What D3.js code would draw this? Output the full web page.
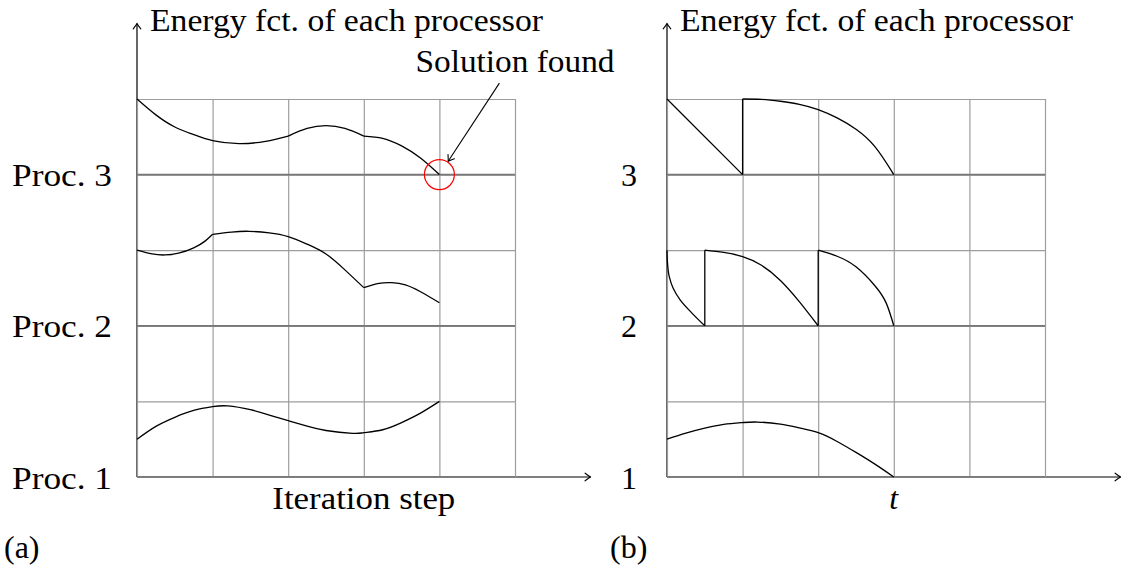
<!DOCTYPE html>
<html>
<head>
<meta charset="utf-8">
<script src="https://cdn.jsdelivr.net/npm/d3@7"></script>
<style>
  body { margin: 0; background: #fff; }
</style>
</head>
<body>
<svg id="chart" width="1125" height="569" font-family="Liberation Serif, serif"></svg>
<script>
// ---- data -------------------------------------------------------------
const gridSteps = [0, 1, 2, 3, 4, 5];
const levelValues = [0, 2, 4];
const procLabelsIter = ["Proc. 1", "Proc. 2", "Proc. 3"];
const procLabelsTime = ["1", "2", "3"];
const yTitle = "Energy fct. of each processor";
const xTitleIter = "Iteration step";
const xTitleTime = "t";
const panelTags = ["(a)", "(b)"];
const solutionText = "Solution found";
const solutionPoint = [4, 4];

// (a) energy per processor over iteration steps; each inner array is one smooth piece
const iterProc1 = [
  [[0, 0.50], [0.25, 0.67], [0.5, 0.79], [0.75, 0.88], [1.0, 0.93], [1.2, 0.94], [1.5, 0.89],
   [1.75, 0.82], [2.0, 0.745], [2.25, 0.672], [2.5, 0.615], [2.85, 0.578], [3.0, 0.586],
   [3.25, 0.625], [3.5, 0.72], [3.75, 0.845], [4.0, 1.0]]
];
const iterProc2 = [
  [[0, 3.0], [0.2, 2.95], [0.37, 2.937], [0.55, 2.96], [0.75, 3.03], [0.9, 3.12], [1.0, 3.21]],
  [[1.0, 3.21], [1.25, 3.24], [1.48, 3.25], [1.75, 3.23], [2.0, 3.18], [2.25, 3.08], [2.5, 2.95],
   [2.75, 2.74], [3.0, 2.505]],
  [[3.0, 2.505], [3.2, 2.56], [3.37, 2.57], [3.55, 2.54], [3.75, 2.45], [4.0, 2.305]]
];
const iterProc3 = [
  [[0, 5.0], [0.25, 4.79], [0.5, 4.63], [0.75, 4.53], [1.0, 4.45], [1.35, 4.41], [1.7, 4.44], [2.0, 4.51]],
  [[2.0, 4.51], [2.25, 4.61], [2.5, 4.647], [2.75, 4.61], [3.0, 4.51]],
  [[3.0, 4.51], [3.25, 4.48], [3.5, 4.38], [3.75, 4.22], [4.0, 4.0]]
];

// (b) energy per processor over time; drops are drawn as straight pieces
const timeProc1 = [
  [[0, 0.50], [0.25, 0.58], [0.5, 0.645], [0.75, 0.695], [1.0, 0.72], [1.2, 0.727], [1.5, 0.70],
   [1.75, 0.65], [2.0, 0.586], [2.25, 0.47], [2.5, 0.325], [2.75, 0.17], [3.0, 0.0]]
];
const timeProc2 = [
  [[0, 3.0], [0.005, 2.85], [0.03, 2.65], [0.08, 2.5], [0.176, 2.34], [0.333, 2.165], [0.5, 2.0]],
  [[0.5, 2.0], [0.5, 3.0]],
  [[0.5, 3.0], [0.75, 2.97], [1.0, 2.914], [1.25, 2.8], [1.5, 2.6], [1.75, 2.32], [2.0, 2.0]],
  [[2.0, 2.0], [2.0, 3.0]],
  [[2.0, 3.0], [2.25, 2.92], [2.5, 2.78], [2.75, 2.53], [2.9, 2.3], [3.0, 2.0]]
];
const timeProc3 = [
  [[0, 5.0], [1.0, 4.0]],
  [[1.0, 4.0], [1.0, 5.0]],
  [[1.0, 5.0], [1.25, 4.995], [1.5, 4.97], [1.75, 4.93], [2.0, 4.86], [2.25, 4.75], [2.5, 4.6],
   [2.75, 4.37], [3.0, 4.0]]
];

// ---- layout -----------------------------------------------------------
const svg = d3.select("#chart");
const FONT = "Liberation Serif, Times New Roman, serif";
const cell = 75.6;
const yBottom = 477;
const fontSize = 32;

const panels = [
  { left: 137, labels: procLabelsIter, labelGap: 25, labelWidth: 100,
    series: [iterProc1, iterProc2, iterProc3], xTitle: xTitleIter, xTitleWidth: 183,
    italic: false, tag: panelTags[0], tagX: 4, solution: true },
  { left: 667, labels: procLabelsTime, labelGap: 30, labelWidth: null,
    series: [timeProc1, timeProc2, timeProc3], xTitle: xTitleTime, xTitleWidth: null,
    italic: true, tag: panelTags[1], tagX: 610, solution: false }
];

function arrowHead(g, tip, from, len = 5.5, half = 3.8) {
  const dx = tip[0] - from[0], dy = tip[1] - from[1];
  const d = Math.hypot(dx, dy), ux = dx / d, uy = dy / d;
  const px = -uy, py = ux;
  const bx = tip[0] - ux * len, by = tip[1] - uy * len;
  g.append("path")
    .attr("d", `M${bx + px * half},${by + py * half} Q${tip[0] - ux * 1.5 + px * 0.8},${tip[1] - uy * 1.5 + py * 0.8} ${tip[0]},${tip[1]}`
      + ` M${bx - px * half},${by - py * half} Q${tip[0] - ux * 1.5 - px * 0.8},${tip[1] - uy * 1.5 - py * 0.8} ${tip[0]},${tip[1]}`)
    .attr("fill", "none").attr("stroke", "#000").attr("stroke-width", 1.1)
    .attr("stroke-linecap", "round");
}

// smooth spline for pieces advancing along x, y-monotone spline for steep drops
function curveFor(seg) {
  const dx = Math.abs(seg[seg.length - 1][0] - seg[0][0]);
  const dy = Math.abs(seg[seg.length - 1][1] - seg[0][1]);
  const xMono = seg.every((d, i) => i === 0 || d[0] > seg[i - 1][0]);
  return (xMono && dx >= dy * 0.6) ? d3.curveNatural : d3.curveMonotoneY;
}

function addText(g, str) {
  return g.append("text").attr("font-family", FONT).attr("font-size", fontSize)
    .attr("fill", "#000").text(str);
}

panels.forEach(p => {
  const x = d3.scaleLinear().domain([0, 5]).range([p.left, p.left + 5 * cell]);
  const y = d3.scaleLinear().domain([0, 5]).range([yBottom, yBottom - 5 * cell]);
  const g = svg.append("g");

  // axes with arrow tips
  const axisEndX = x(6), axisEndY = y(6);
  g.append("line").attr("x1", x(0)).attr("y1", y(0)).attr("x2", x(0)).attr("y2", axisEndY)
    .attr("stroke", "#000").attr("stroke-width", 1.2);
  g.append("line").attr("x1", x(0)).attr("y1", y(0)).attr("x2", axisEndX).attr("y2", y(0))
    .attr("stroke", "#000").attr("stroke-width", 1.2);
  arrowHead(g, [x(0), axisEndY], [x(0), y(0)]);
  arrowHead(g, [axisEndX, y(0)], [x(0), y(0)]);

  // grid
  g.append("g").attr("transform", `translate(0,${y(0)})`)
    .call(d3.axisBottom(x).tickValues(gridSteps).tickSize(-5 * cell).tickFormat(""))
    .call(a => a.select(".domain").remove())
    .call(a => a.selectAll("line").attr("stroke", "#9d9d9d").attr("stroke-width", 1.2));
  g.append("g").attr("transform", `translate(${x(0)},0)`)
    .call(d3.axisLeft(y).tickValues(gridSteps).tickSize(-5 * cell).tickFormat(""))
    .call(a => a.select(".domain").remove())
    .call(a => a.selectAll("line").attr("stroke", "#9d9d9d").attr("stroke-width", 1.2));

  // processor baselines
  g.selectAll("line.level").data(levelValues).join("line").attr("class", "level")
    .attr("x1", x(0)).attr("x2", x(5))
    .attr("y1", d => y(d)).attr("y2", d => y(d))
    .attr("stroke", "#777").attr("stroke-width", 1.7);

  // processor labels
  const labelAxis = g.append("g").attr("transform", `translate(${x(0)},0)`)
    .call(d3.axisLeft(y).tickValues(levelValues).tickSize(0).tickPadding(p.labelGap)
      .tickFormat((d, i) => p.labels[i]));
  labelAxis.attr("font-family", FONT).attr("font-size", fontSize);
  labelAxis.select(".domain").remove();
  labelAxis.selectAll("text")
    .attr("font-family", FONT).attr("font-size", fontSize)
    .attr("fill", "#000").attr("dy", null).attr("y", 11);
  if (p.labelWidth) labelAxis.selectAll("text").attr("textLength", p.labelWidth)
    .attr("lengthAdjust", "spacingAndGlyphs");

  // energy curves
  p.series.forEach(segs => {
    segs.forEach(seg => {
      const line = d3.line().x(d => x(d[0])).y(d => y(d[1])).curve(curveFor(seg));
      g.append("path").datum(seg)
        .attr("d", line).attr("fill", "none").attr("stroke", "#000")
        .attr("stroke-width", 1.3).attr("stroke-linejoin", "round");
    });
  });

  // titles
  addText(g, yTitle).attr("x", x(0) + 13).attr("y", 31)
    .attr("textLength", 393).attr("lengthAdjust", "spacingAndGlyphs");
  const xt = addText(g, p.xTitle).attr("x", (x(0) + axisEndX) / 2).attr("y", 509)
    .attr("text-anchor", "middle").attr("font-style", p.italic ? "italic" : "normal");
  if (p.xTitleWidth) xt.attr("textLength", p.xTitleWidth).attr("lengthAdjust", "spacingAndGlyphs");
  addText(g, p.tag).attr("x", p.tagX).attr("y", 558);

  // solution marker
  if (p.solution) {
    const cx = x(solutionPoint[0]), cy = y(solutionPoint[1]), r = 15;
    g.append("circle").attr("cx", cx).attr("cy", cy).attr("r", r)
      .attr("fill", "none").attr("stroke", "#ff0000").attr("stroke-width", 1.2);
    const start = [cx + 60, cy - 91.5];
    const ang = Math.atan2(start[1] - cy, start[0] - cx);
    const tip = [cx + Math.cos(ang) * (r + 1), cy + Math.sin(ang) * (r + 1)];
    g.append("line").attr("x1", start[0]).attr("y1", start[1]).attr("x2", tip[0]).attr("y2", tip[1])
      .attr("stroke", "#000").attr("stroke-width", 1.1);
    arrowHead(g, tip, start);
    addText(g, solutionText).attr("x", x(5)).attr("y", 72).attr("text-anchor", "middle")
      .attr("textLength", 199).attr("lengthAdjust", "spacingAndGlyphs");
  }
});
</script>
</body>
</html>
